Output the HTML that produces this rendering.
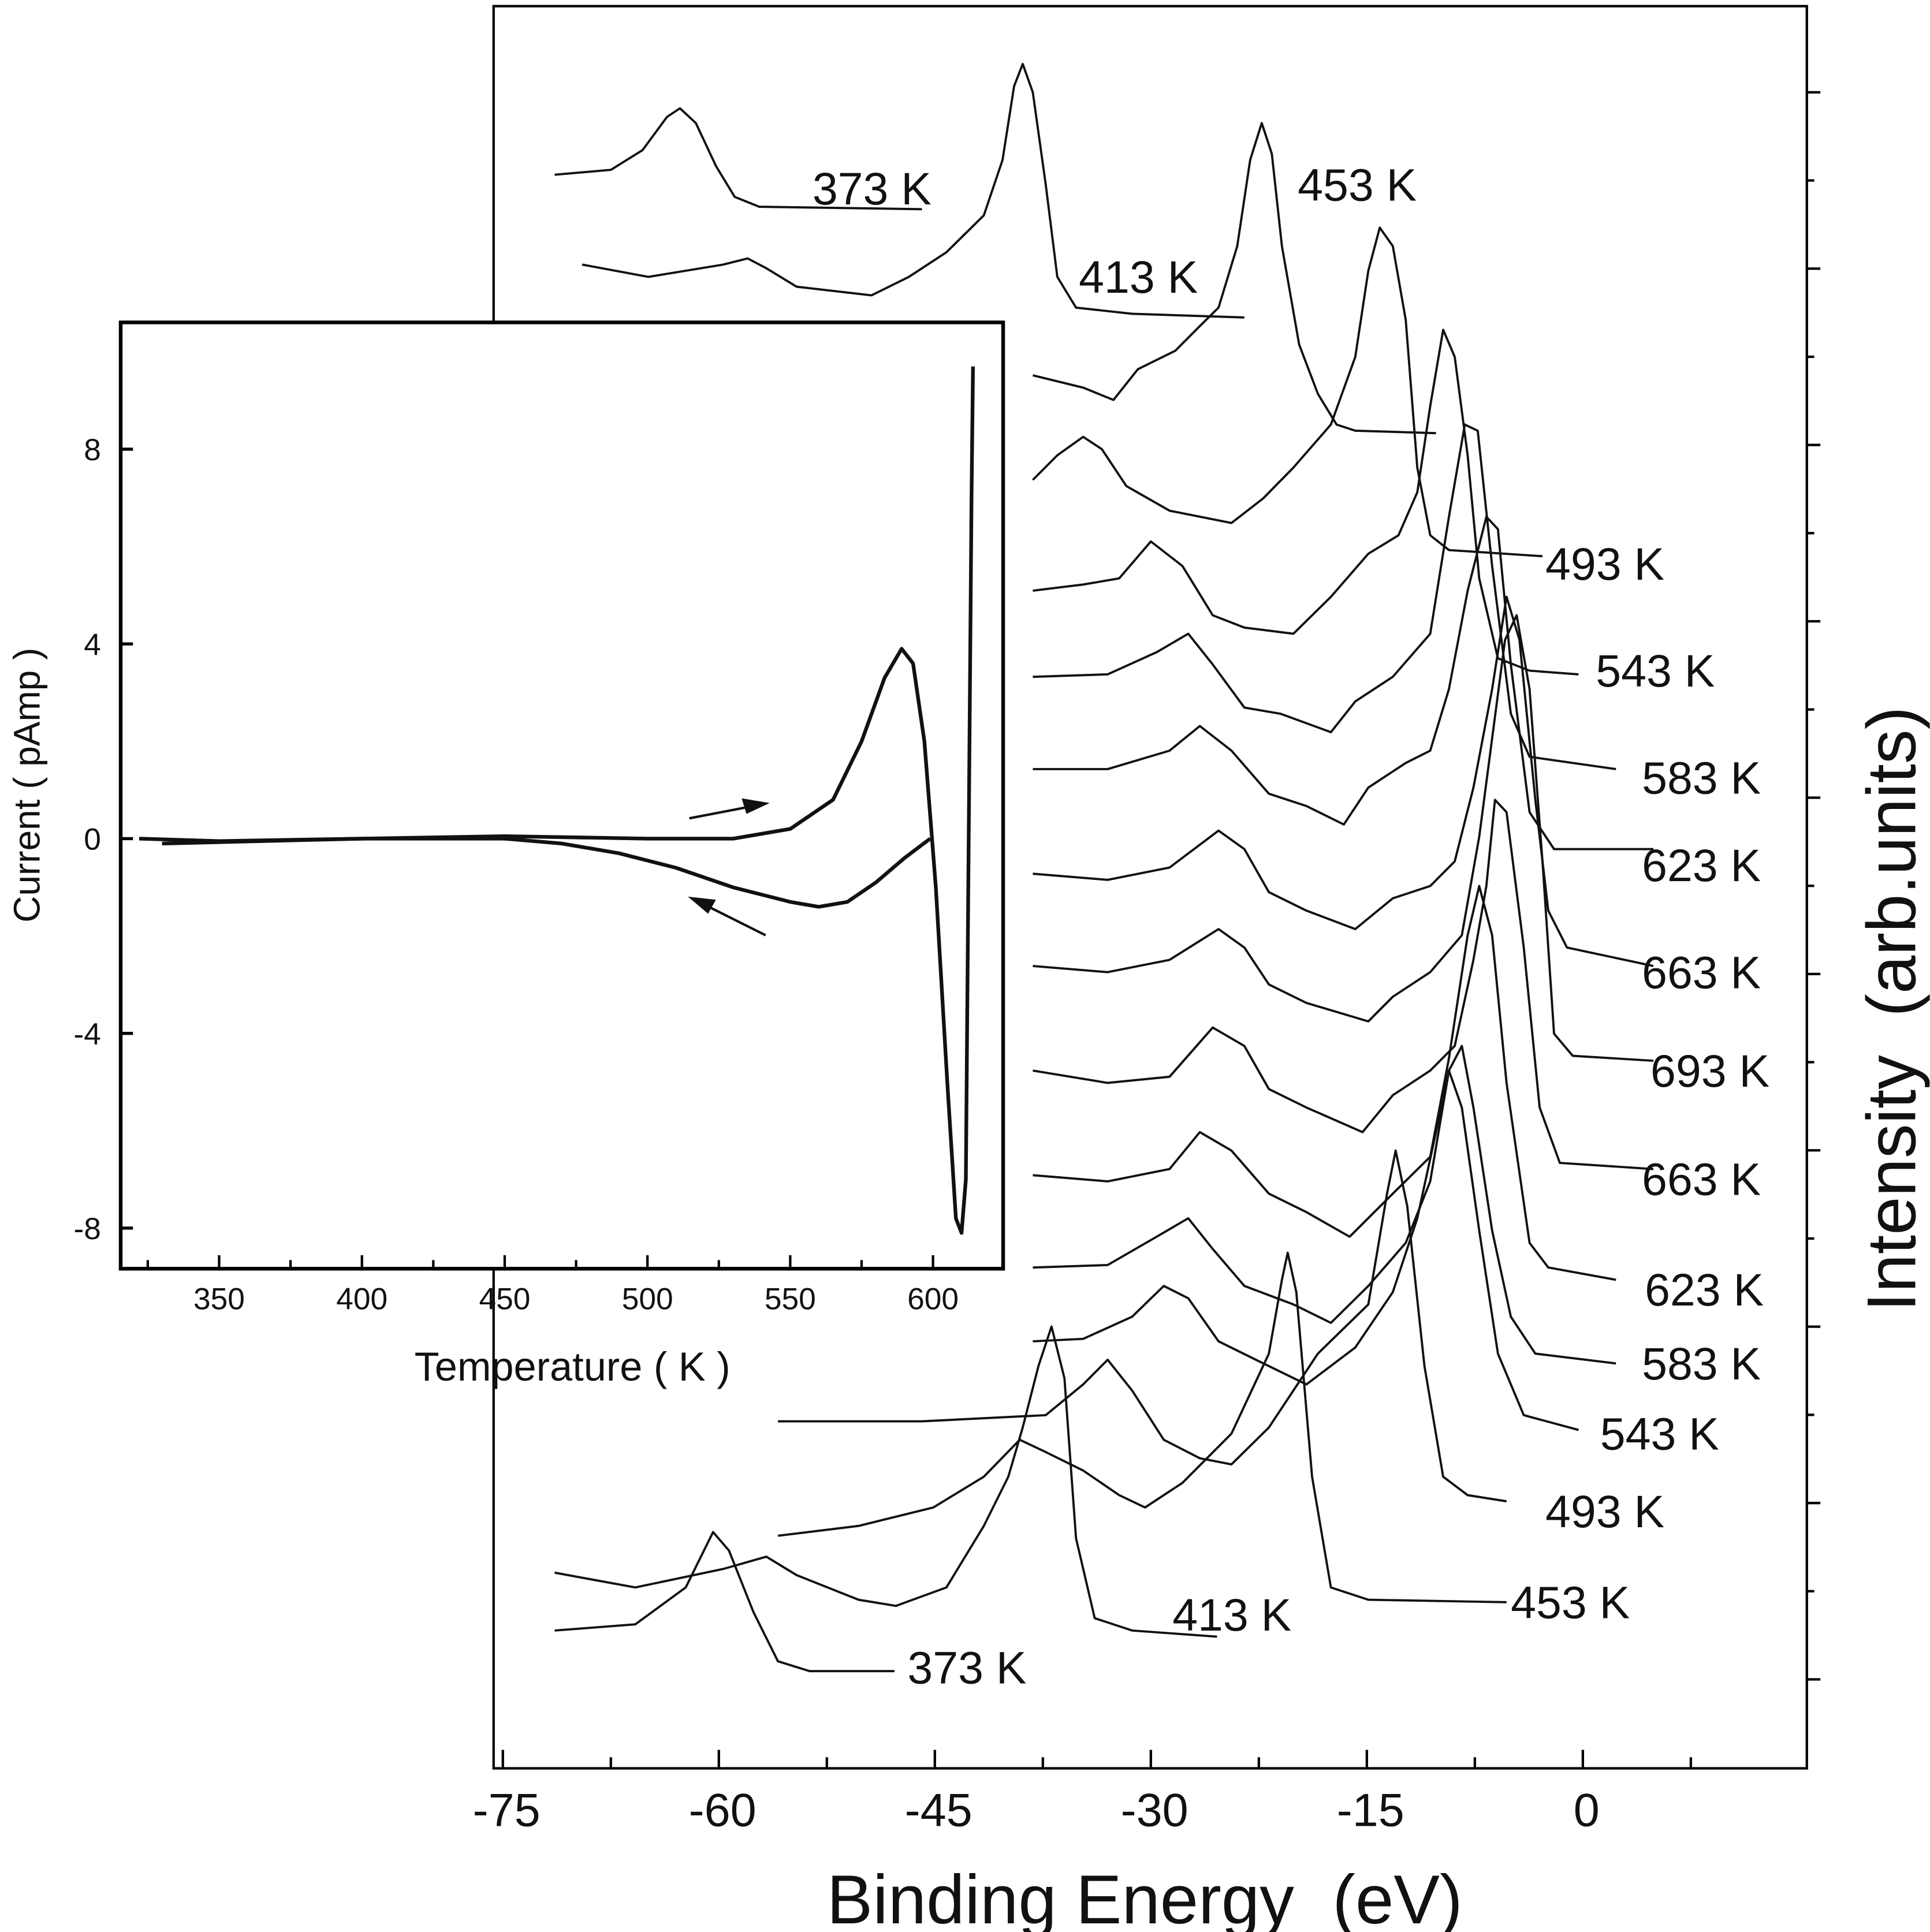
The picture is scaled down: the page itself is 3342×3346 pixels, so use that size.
<!DOCTYPE html>
<html><head><meta charset="utf-8"><style>
html,body{margin:0;padding:0;background:#fff;}
svg{display:block;}
text{font-family:"Liberation Sans",Arial,sans-serif;fill:#111;}
</style></head><body>
<svg id="chart" width="3342" height="3346" viewBox="0 0 1568 1570" xmlns="http://www.w3.org/2000/svg">
<g id="main"></g>
<g id="inset"></g>
</svg>
<script>
// ---- main chart data (binding energy eV, intensity arb) ----
const xTicks = [-75, -60, -45, -30, -15, 0];
const xTickLabels = ["-75", "-60", "-45", "-30", "-15", "0"];
const s373a = [[-71.4,1295],[-67.5,1299],[-65.3,1315],[-63.6,1342],[-62.7,1349],[-61.6,1337],[-60.2,1302],[-58.9,1277],[-57.2,1269],[-45.9,1267]];
const s413a = [[-69.5,1222],[-64.9,1212],[-59.7,1222],[-58.0,1227],[-56.7,1219],[-54.6,1204],[-49.4,1197],[-46.8,1212],[-44.2,1232],[-41.6,1262],[-40.3,1307],[-39.5,1367],[-38.9,1385],[-38.2,1362],[-37.3,1287],[-36.5,1212],[-35.2,1187],[-31.3,1182],[-23.5,1179]];
const s453a = [[-38.2,1132],[-34.7,1122],[-32.6,1112],[-30.9,1137],[-28.3,1152],[-26.6,1172],[-25.3,1187],[-24.0,1237],[-23.1,1307],[-22.3,1337],[-21.6,1312],[-20.9,1237],[-19.7,1157],[-18.4,1117],[-17.1,1092],[-15.8,1087],[-10.2,1085]];
const s493a = [[-38.2,1047],[-36.5,1067],[-34.7,1082],[-33.4,1072],[-31.7,1042],[-28.7,1022],[-24.4,1012],[-22.2,1032],[-20.1,1057],[-17.5,1092],[-15.8,1147],[-14.9,1217],[-14.1,1252],[-13.2,1237],[-12.3,1177],[-11.5,1057],[-10.6,1002],[-9.3,990],[-2.8,985]];
const s543a = [[-38.2,957],[-34.7,962],[-32.2,967],[-30.0,997],[-27.8,977],[-25.7,937],[-23.5,927],[-20.1,922],[-17.5,952],[-14.9,987],[-12.8,1002],[-11.5,1037],[-10.6,1107],[-9.7,1169],[-8.9,1147],[-8.0,1067],[-7.2,967],[-5.9,902],[-3.7,892],[-0.3,889]];
const s583a = [[-38.2,887],[-33.0,889],[-29.6,907],[-27.4,922],[-25.7,897],[-23.5,862],[-21.0,857],[-17.5,842],[-15.8,867],[-13.2,887],[-10.6,922],[-9.3,1017],[-8.2,1092],[-7.3,1087],[-6.3,977],[-5.0,857],[-3.7,822],[2.3,812]];
const s623a = [[-38.2,812],[-33.0,812],[-28.7,827],[-26.6,847],[-24.4,827],[-21.8,792],[-19.2,782],[-16.6,767],[-14.9,797],[-12.3,817],[-10.6,827],[-9.3,877],[-8.0,957],[-6.7,1017],[-5.9,1007],[-5.0,897],[-3.7,777],[-2.0,747],[4.9,747]];
const s663a = [[-38.2,727],[-33.0,722],[-28.7,732],[-25.3,762],[-23.5,747],[-21.8,712],[-19.2,697],[-15.8,682],[-13.2,707],[-10.6,717],[-8.9,737],[-7.6,797],[-6.3,877],[-5.3,952],[-4.4,917],[-3.3,787],[-2.4,697],[-1.1,667],[4.9,652]];
const s693 = [[-38.2,652],[-33.0,647],[-28.7,657],[-25.3,682],[-23.5,667],[-21.8,637],[-19.2,622],[-14.9,607],[-13.2,627],[-10.6,647],[-8.4,677],[-7.2,757],[-6.3,837],[-5.4,917],[-4.6,937],[-3.7,877],[-2.8,737],[-2.0,597],[-0.7,579],[4.9,575]];
const s663b = [[-38.2,567],[-33.0,557],[-28.7,562],[-25.7,602],[-23.5,587],[-21.8,552],[-19.2,537],[-15.3,517],[-13.2,547],[-10.6,567],[-8.9,587],[-7.6,657],[-6.7,717],[-6.1,787],[-5.3,777],[-4.1,667],[-3.0,537],[-1.6,492],[4.9,487]];
const s623b = [[-38.2,482],[-33.0,477],[-28.7,487],[-26.6,517],[-24.4,502],[-21.8,467],[-19.2,452],[-16.2,432],[-13.2,467],[-10.6,497],[-9.3,577],[-8.0,677],[-7.2,717],[-6.3,677],[-5.3,557],[-3.7,427],[-2.4,407],[2.3,397]];
const s583b = [[-38.2,407],[-33.0,409],[-29.6,432],[-27.4,447],[-25.7,422],[-23.5,392],[-20.1,377],[-17.5,362],[-14.9,392],[-12.3,427],[-10.6,477],[-9.3,567],[-8.4,587],[-7.6,537],[-6.3,437],[-5.0,367],[-3.3,337],[2.3,329]];
const s543b = [[-38.2,347],[-34.7,349],[-31.3,367],[-29.1,392],[-27.4,382],[-25.3,347],[-22.7,332],[-19.2,312],[-15.8,342],[-13.2,387],[-11.5,447],[-10.2,517],[-9.3,567],[-8.4,537],[-7.2,437],[-5.9,337],[-4.1,287],[-0.3,275]];
const s493b = [[-55.9,282],[-45.9,282],[-37.3,287],[-34.7,312],[-33.0,332],[-31.3,307],[-29.1,267],[-26.6,252],[-24.4,247],[-21.8,277],[-18.4,337],[-14.9,377],[-13.6,467],[-13.0,502],[-12.2,457],[-11.0,327],[-9.7,237],[-8.0,222],[-5.3,217]];
const s453b = [[-55.9,189],[-50.3,197],[-45.1,212],[-41.6,237],[-39.1,267],[-37.3,257],[-34.7,242],[-32.2,222],[-30.4,212],[-27.8,232],[-24.4,272],[-21.8,337],[-20.9,397],[-20.5,419],[-19.9,387],[-18.8,237],[-17.5,147],[-14.9,137],[-5.3,135]];
const s413b = [[-71.4,159],[-65.8,147],[-59.7,162],[-56.7,172],[-54.6,157],[-50.3,137],[-47.7,132],[-44.2,147],[-41.6,197],[-39.9,237],[-38.9,277],[-37.8,327],[-36.9,359],[-36.0,317],[-35.2,187],[-33.9,122],[-31.3,112],[-25.4,107]];
const s373b = [[-71.4,112],[-65.8,117],[-62.3,147],[-60.4,192],[-59.3,177],[-57.6,127],[-55.9,87],[-53.7,79],[-47.8,79]];
const seriesList = [s373a,s413a,s453a,s493a,s543a,s583a,s623a,s663a,s693,s663b,s623b,s583b,s543b,s493b,s453b,s413b,s373b];
const seriesNames = ["373K-top","413K-top","453K-top","493K-top","543K-top","583K-top","623K-top","663K-top","693K","663K-bottom","623K-bottom","583K-bottom","543K-bottom","493K-bottom","453K-bottom","413K-bottom","373K-bottom"];
const labelTexts = ["373 K","413 K","453 K","493 K","543 K","583 K","623 K","663 K","693 K","663 K","623 K","583 K","543 K","493 K","453 K","413 K","373 K"];
const labelX = [-53.5,-35.0,-19.8,-2.6,0.9,4.1,4.1,4.1,4.7,4.1,4.3,4.1,1.2,-2.6,-5.0,-28.5,-46.9];
const labelI = [1284,1212,1287,979,892,805,734,647,567,479,389,329,272,209,135,125,82];

// ---- inset data (Temperature K, current pAmp) ----
const insetXTicks = [350,400,450,500,550,600];
const insetYTicks = [8,4,0,-4,-8];
const heatT = [322,350,400,450,500,530,550,565,575,583,589,593,597,601,605,608,610,611.5,612.5,613.5,614];
const heatI = [0,-0.05,0,0.05,0,0,0.2,0.8,2.0,3.3,3.9,3.6,2.0,-1.0,-5.0,-7.8,-8.1,-7.0,0,7.0,9.7];
const coolT = [599,590,580,570,560,550,530,510,490,470,450,400,330];
const coolI = [0,-0.4,-0.9,-1.3,-1.4,-1.3,-1.0,-0.6,-0.3,-0.1,0,0,-0.1];

const NS = "http://www.w3.org/2000/svg";
function mk(tag, attrs, parent){const e=document.createElementNS(NS,tag);for(const k in attrs)e.setAttribute(k,attrs[k]);parent.appendChild(e);return e;}
const main = document.getElementById('main');
const inset = document.getElementById('inset');

// main axes
const L=401,R=1468,T=5,B=1437;
function xS(be){return 1286 + be*11.7;}
function yS(v){return B - v;}

let fr = mk('rect',{x:L,y:T,width:R-L,height:B-T,fill:'none',stroke:'#000','stroke-width':2},main);



for(let i=0;i<xTicks.length;i++){
  const x=xS(xTicks[i]);
  const t=mk('line',{x1:x,x2:x,y1:B,y2:B-15,stroke:'#000','stroke-width':2},main);
  
  
  if(i<xTicks.length-1){
    const xm=xS(xTicks[i]+7.5);
    const m=mk('line',{x1:xm,x2:xm,y1:B,y2:B-9,stroke:'#000','stroke-width':2},main);
    
    
  }
  const lb=mk('text',{x:x+3,y:1484,'font-size':38,'text-anchor':'middle'},main);
  lb.textContent=xTickLabels[i];
  
  
}
{const xm=xS(7.5);const m=mk('line',{x1:xm,x2:xm,y1:B,y2:B-9,stroke:'#000','stroke-width':2},main);

}
for(let k=0;k<19;k++){
  const y=75+k*71.65;
  const t=mk('line',{x1:R,x2:R+(k%2===0?11:6),y1:y,y2:y,stroke:'#000','stroke-width':2},main);
  
  
}
let xt=mk('text',{x:930,y:1563,'font-size':56,'text-anchor':'middle'},main);
xt.textContent='Binding Energy\u00a0\u00a0(eV)';


let yt=mk('text',{x:0,y:0,'font-size':56,'text-anchor':'middle',transform:'translate(1556,820) rotate(-90)'},main);
yt.textContent='Intensity\u00a0\u00a0(arb.units)';



for(let i=0;i<seriesList.length;i++){
  const d=seriesList[i].map((p,j)=>(j?'L':'M')+xS(p[0]).toFixed(1)+' '+yS(p[1]).toFixed(1)).join(' ');
  const p=mk('path',{d:d,fill:'none',stroke:'#111','stroke-width':1.8,'stroke-linejoin':'round'},main);
  
  
  const t=mk('text',{x:xS(labelX[i]),y:yS(labelI[i])+13,'font-size':37},main);
  t.textContent=labelTexts[i];
  
  
}

// inset
const iL=98,iR=815,iT=262,iB=1031;
function ixS(t){return 178 + (t-350)*2.32;}
function iyS(v){return 681.5 - v*39.56;}
let ib=mk('rect',{x:iL,y:iT,width:iR-iL,height:iB-iT,fill:'#fff',stroke:'#000','stroke-width':3},inset);


for(let i=0;i<insetXTicks.length;i++){
  const x=ixS(insetXTicks[i]);
  const t=mk('line',{x1:x,x2:x,y1:iB,y2:iB-11,stroke:'#000','stroke-width':2},inset);
  
  
  const l=mk('text',{x:x,y:1064,'font-size':25,'text-anchor':'middle'},inset);
  l.textContent=String(insetXTicks[i]);
  
  
}
for(const v of [325,375,425,475,525,575]){
  const x=ixS(v);
  const t=mk('line',{x1:x,x2:x,y1:iB,y2:iB-7,stroke:'#000','stroke-width':2},inset);
  
  
}
for(let i=0;i<insetYTicks.length;i++){
  const y=iyS(insetYTicks[i]);
  const t=mk('line',{x1:iL,x2:iL+10,y1:y,y2:y,stroke:'#000','stroke-width':2.5},inset);
  
  
  const l=mk('text',{x:82,y:y+9,'font-size':25,'text-anchor':'end'},inset);
  l.textContent=String(insetYTicks[i]);
  
  
}
let ixt=mk('text',{x:465,y:1122,'font-size':33,'text-anchor':'middle'},inset);
ixt.textContent='Temperature ( K )';


let iyt=mk('text',{x:0,y:0,'font-size':30,'text-anchor':'middle',transform:'translate(32,638) rotate(-90)'},inset);
iyt.textContent='Current ( pAmp )';



const hd=heatT.map((t,j)=>(j?'L':'M')+ixS(t).toFixed(1)+' '+iyS(heatI[j]).toFixed(1)).join(' ');
let hp=mk('path',{d:hd,fill:'none',stroke:'#111','stroke-width':3,'stroke-linejoin':'round'},inset);


const cd=coolT.map((t,j)=>(j?'L':'M')+ixS(t).toFixed(1)+' '+iyS(coolI[j]).toFixed(1)).join(' ');
let cp=mk('path',{d:cd,fill:'none',stroke:'#111','stroke-width':3,'stroke-linejoin':'round'},inset);



let a1=mk('path',{d:'M560 665 L612 655 M622 653 L604 650 L607 660 Z',fill:'#111',stroke:'#111','stroke-width':2},inset);


let a2=mk('path',{d:'M622 760 L572 735 M562 730 L580 732 L575 741 Z',fill:'#111',stroke:'#111','stroke-width':2},inset);


</script>
</body></html>
